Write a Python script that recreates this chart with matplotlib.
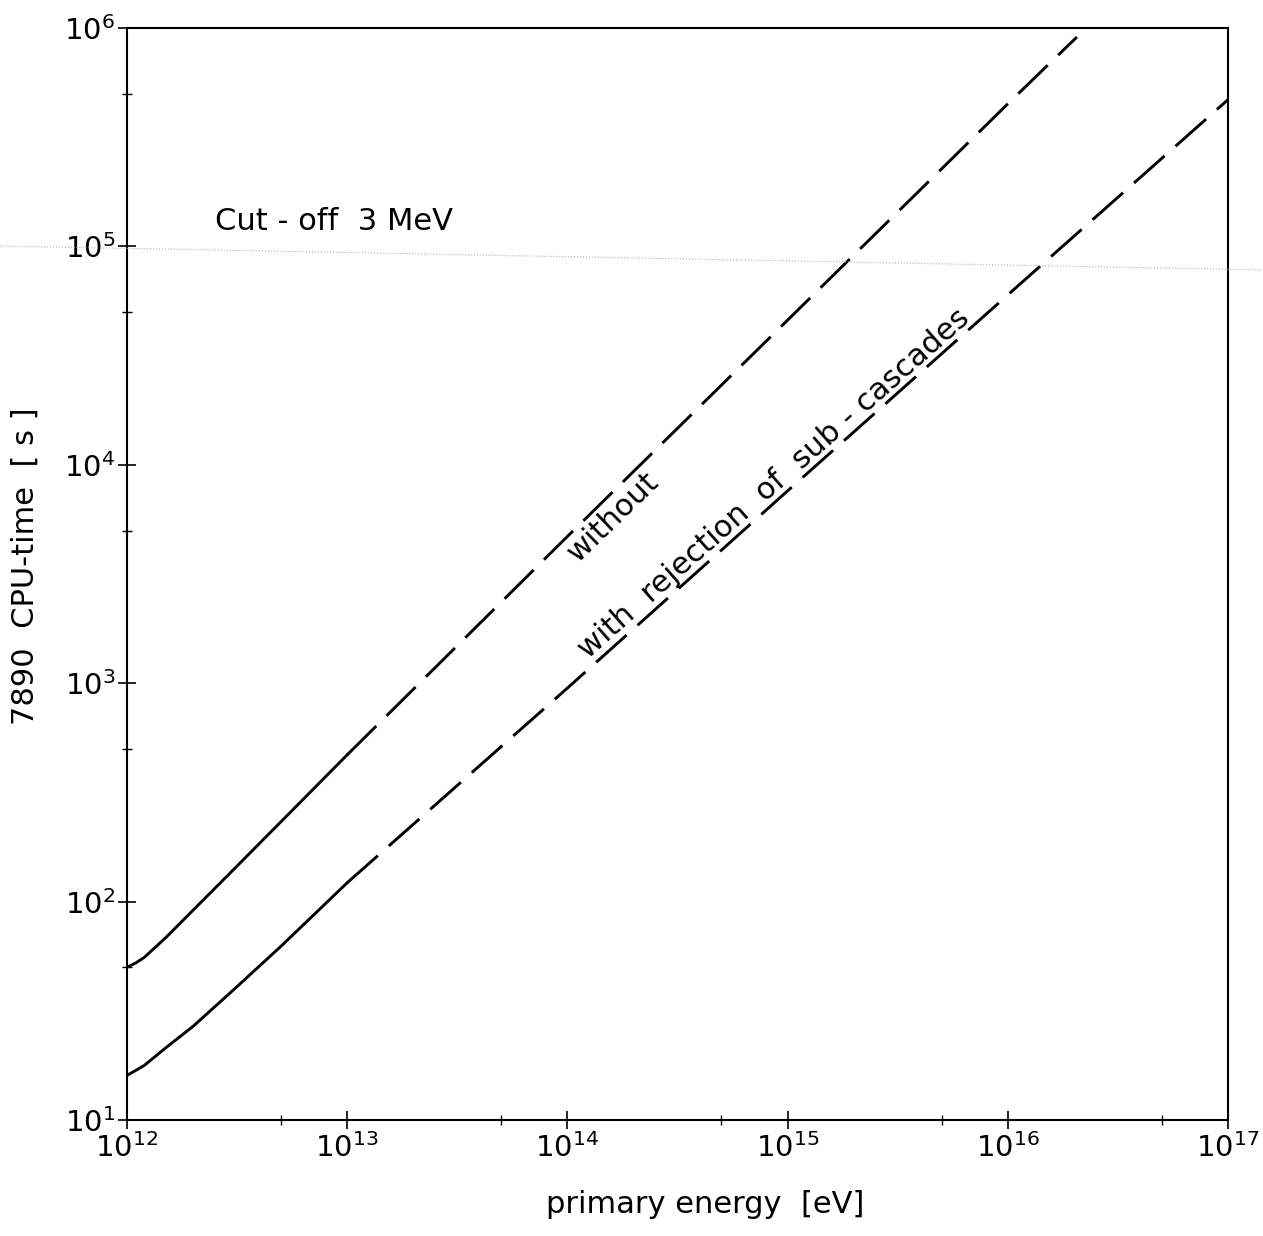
import matplotlib
matplotlib.use("Agg")
import matplotlib.pyplot as plt
from matplotlib.lines import Line2D
from matplotlib.ticker import LogLocator

# CPU time vs primary energy, cut-off 3 MeV
energy_low = [1e12, 1.1e12, 1.2e12, 1.5e12, 2e12, 3e12, 5e12, 1e13]
without_low = [50, 52.5, 55.6, 68.4, 91.6, 138, 232, 470]
with_low = [16, 16.9, 17.8, 21.4, 26.9, 38.9, 62.4, 122]

energy_high_without = [1e13, 1e14, 1e15, 1e16, 2.06e16]
without_high = [470, 4.7e3, 4.6e4, 4.5e5, 9.1e5]

energy_high_with = [1e13, 1e14, 1e15, 1e16, 1e17]
with_high = [122, 950, 7.6e3, 6.0e4, 4.7e5]

plt.rcParams['font.family'] = ['DejaVu Sans']
plt.rcParams['mathtext.fontset'] = 'dejavusans'

fig = plt.figure(figsize=(12.63, 12.36), dpi=100)
ax = fig.add_axes([0.1006, 0.0939, 0.8717, 0.8834])

lw = 2.1
ax.plot(energy_low, without_low, color='black', lw=lw)
ax.plot(energy_low, with_low, color='black', lw=lw)
ax.plot(energy_high_without, without_high, color='black', lw=lw, dashes=(14, 5))
ax.plot(energy_high_with, with_high, color='black', lw=lw, dashes=(14, 5))

ax.set_xscale('log')
ax.set_yscale('log')
ax.set_xlim(1e12, 1e17)
ax.set_ylim(1e1, 1e6)

ax.xaxis.set_major_locator(LogLocator(base=10, numticks=10))
ax.yaxis.set_major_locator(LogLocator(base=10, numticks=10))
ax.xaxis.set_minor_locator(LogLocator(base=10, subs=[5.0], numticks=10))
ax.yaxis.set_minor_locator(LogLocator(base=10, subs=[5.0], numticks=10))
ax.xaxis.set_minor_formatter(plt.NullFormatter())
ax.yaxis.set_minor_formatter(plt.NullFormatter())

ax.tick_params(which='major', direction='inout', length=13, width=1.2,
               labelsize=21, top=False, right=False)
ax.tick_params(which='minor', direction='inout', length=7, width=1.0,
               top=False, right=False)
ax.tick_params(axis='y', which='major', pad=2)
ax.tick_params(axis='x', which='major', pad=3)

for s in ax.spines.values():
    s.set_linewidth(1.5)

ax.set_xlabel('primary energy  [eV]', fontsize=22)
ax.set_ylabel('7890  CPU-time  [ s ]', fontsize=22)
ax.xaxis.set_label_coords(0.525, -0.064)
ax.yaxis.set_label_coords(-0.079, 0.507)

ax.text(0.08, 0.815, 'Cut - off  3 MeV', transform=ax.transAxes,
        fontsize=22, ha='left', va='baseline')

ax.text(1.61e14, 5.77e3, 'without', fontsize=22, rotation=44,
        rotation_mode='anchor', ha='center', va='center')
ax.text(8.67e14, 8.2e3, 'with  rejection  of  sub - cascades', fontsize=22,
        rotation=41.5, rotation_mode='anchor', ha='center', va='center')

# faint dotted streak across the page
fig.add_artist(Line2D([0, 1], [0.801, 0.7816], transform=fig.transFigure,
                      color='#b0b0b0', lw=0.8, linestyle=':'))

fig.savefig('out.png', dpi=100)
